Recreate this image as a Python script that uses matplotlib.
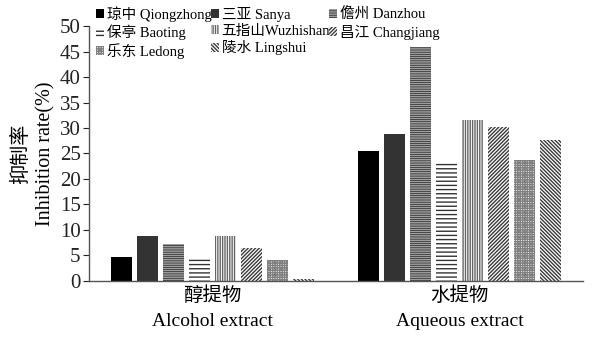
import matplotlib
matplotlib.use("Agg")
import matplotlib.pyplot as plt
import numpy as np

plt.rcParams['font.family'] = ['Liberation Serif', 'Noto Sans CJK SC', 'DejaVu Sans']
plt.rcParams['hatch.linewidth'] = 1.0

groups = ["醇提物\nAlcohol extract", "水提物\nAqueous extract"]
regions = ["琼中 Qiongzhong", "三亚 Sanya", "儋州 Danzhou", "保亭 Baoting",
           "五指山Wuzhishan", "昌江 Changjiang", "乐东 Ledong", "陵水 Lingshui"]
alcohol = [4.7, 8.8, 7.2, 4.3, 8.8, 6.5, 4.1, 0.4]
aqueous = [25.4, 28.9, 45.9, 23.2, 31.5, 30.1, 23.7, 27.6]
yticks = list(range(0, 55, 5))

# (facecolor, hatch colour, hatch pattern) for each region
styles = [
    ("#000000", "#000000", None),
    ("#333333", "#333333", None),
    ("#ffffff", "#4a4a4a", "---------"),
    ("#ffffff", "#333333", "----"),
    ("#ffffff", "#666666", "|||||||"),
    ("#ffffff", "#3a3a3a", "/////////"),
    ("#ffffff", "#808080", "+++++++"),
    ("#ffffff", "#3a3a3a", "\\\\\\\\\\\\\\\\\\"),
]

fig = plt.figure(figsize=(5.92, 3.39), dpi=100)
ax = fig.add_axes([0.1503, 0.1711, 0.8345, 0.7522])

centers = np.arange(len(groups))
step = 0.105
width = 0.0834
handles = []
for i, name in enumerate(regions):
    fc, hc, hatch = styles[i]
    x = centers + (i - 3.5) * step
    vals = [alcohol[i], aqueous[i]]
    bars = ax.bar(x, vals, width=width, color=fc, edgecolor=hc, hatch=hatch, linewidth=0)
    handles.append(bars)

ax.set_xlim(-0.5, 1.5)
ax.set_ylim(0, 50)
ax.set_yticks(yticks)
ax.set_yticklabels([str(t) for t in yticks], fontsize=15)
ax.set_xticks(centers)
ax.set_xticklabels(groups, fontsize=14, linespacing=1.6)
ax.tick_params(axis='x', length=0, pad=4)
ax.tick_params(axis='y', length=4, width=0.8, direction='out', pad=2, colors='#222222')
for s in ['top', 'right']:
    ax.spines[s].set_visible(False)
for s in ['left', 'bottom']:
    ax.spines[s].set_color('#555555')
    ax.spines[s].set_linewidth(1.0)

ax.set_ylabel("抑制率\nInhibition rate(%)", fontsize=14.5, linespacing=1.35, labelpad=3)

# legend laid out column by column: 3 rows x 3 columns
order = [0, 3, 6, 1, 4, 7, 2, 5]
leg = fig.legend([handles[k] for k in order], [regions[k] for k in order],
                 ncol=3, loc='upper left', bbox_to_anchor=(0.158, 0.99),
                 frameon=False, fontsize=10.5, handlelength=0.55, handleheight=0.55,
                 handletextpad=0.2, columnspacing=-0.1, labelspacing=0.18,
                 borderpad=0.2, borderaxespad=0.0)

fig.savefig("out.png", dpi=100)
